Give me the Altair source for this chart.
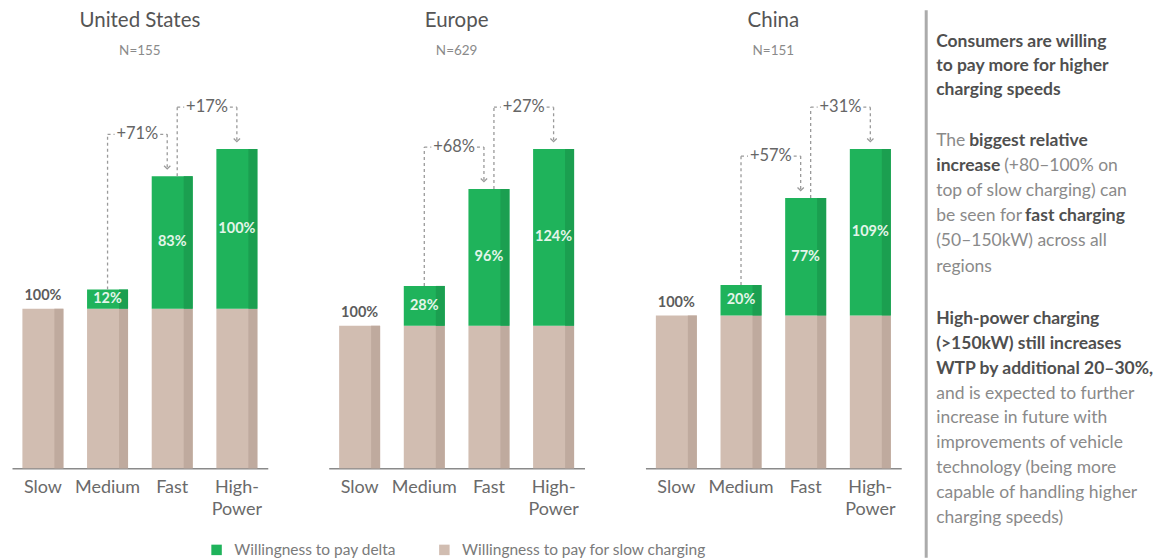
import altair as alt
import pandas as pd

# ---------------- data ----------------
categories = ["Slow", "Medium", "Fast", "High-Power"]
regions = ["United States", "Europe", "China"]
sample_sizes = ["N=155", "N=629", "N=151"]
slow_wtp = [100, 100, 100, 100]  # willingness to pay for slow charging (index)
delta_us = [0, 12, 83, 100]
delta_eu = [0, 28, 96, 124]
delta_cn = [0, 20, 77, 109]
jumps_us = ["+71%", "+17%"]
jumps_eu = ["+68%", "+27%"]
jumps_cn = ["+57%", "+31%"]

series_delta = "Willingness to pay delta"
series_slow = "Willingness to pay for slow charging"

heading_lines = ["Consumers are willing", "to pay more for higher", "charging speeds"]
para1 = [
    [("The", False), ("biggest relative", True)],
    [("increase", True), ("(+80–100% on", False)],
    [("top of slow charging) can", False)],
    [("be seen for", False), ("fast charging", True)],
    [("(50–150kW) across all", False)],
    [("regions", False)],
]
para2 = [
    [("High-power charging", True)],
    [("(>150kW) still increases", True)],
    [("WTP by additional 20–30%,", True)],
    [("and is expected to further", False)],
    [("increase in future with", False)],
    [("improvements of vehicle", False)],
    [("technology (being more", False)],
    [("capable of handling higher", False)],
    [("charging speeds)", False)],
]

# ---------------- style ----------------
FONT = "Lato"
GREEN = "#1fb35b"
GREEN_D = "#1b9f50"
TAN = "#d1bdb1"
TAN_D = "#bfaa9e"
DASH = "#9a9a9a"
W, H = 256, 458.5
BAR_SPAN = 319.5
STEP = W / (4 - 0.366 + 2 * 0.161)
BRACKET = -42

color_scale = alt.Scale(domain=[series_delta, series_slow], range=[GREEN, TAN])
legend = alt.Legend(orient="none", legendX=197, legendY=532, direction="horizontal",
                    title=None, symbolType="square", symbolSize=110, symbolStrokeWidth=0,
                    labelFontSize=15.5, labelColor="#7a7a7a", labelFont=FONT,
                    labelLimit=0, columnPadding=40, labelOffset=10)


def panel(region, nlabel, deltas, jumps):
    rows = []
    for c, b, d in zip(categories, slow_wtp, deltas):
        rows.append(dict(cat=c, series=series_slow, y0=0, y1=b, total=b + d,
                         mid=None, lab=""))
        if d > 0:
            rows.append(dict(cat=c, series=series_delta, y0=b, y1=b + d, total=b + d,
                             mid=b + d / 2, lab=f"{d}%"))
    df = pd.DataFrame(rows)
    top = max(b + d for b, d in zip(slow_wtp, deltas))
    yscale = alt.Scale(domain=[0, top * H / BAR_SPAN], nice=False, zero=True)
    xenc = alt.X("cat:N", sort=categories,
                 scale=alt.Scale(domain=categories, paddingInner=0.366, paddingOuter=0.161),
                 axis=alt.Axis(title=None, labelAngle=0, domain=True, domainColor="#8a8a8a",
                               domainWidth=1.5, ticks=False, labelFontSize=18,
                               labelColor="#6a6a6a", labelPadding=10, labelFont=FONT,
                               labelBaseline="top", labelLineHeight=22, grid=False,
                               labelExpr="datum.label == 'High-Power' ? ['High-', 'Power'] : datum.label"))
    base = alt.Chart(df)
    bars = base.mark_bar().encode(
        x=xenc, y=alt.Y("y0:Q", scale=yscale, axis=None), y2="y1",
        color=alt.Color("series:N", scale=color_scale, legend=legend))
    strip_slow = base.transform_filter(alt.datum.series == series_slow).mark_bar(
        width=9, xOffset=16, color=TAN_D).encode(x="cat:N", y="y0:Q", y2="y1")
    strip_delta = base.transform_filter(alt.datum.series == series_delta).mark_bar(
        width=9, xOffset=16, color=GREEN_D).encode(x="cat:N", y="y0:Q", y2="y1")
    slow_lab = base.transform_filter(
        (alt.datum.cat == "Slow") & (alt.datum.series == series_slow)).mark_text(
        dy=-13, font=FONT, fontWeight="bold", fontSize=14.5, color="#5c5c5c").encode(
        x="cat:N", y="y1:Q", text=alt.value("100%"))
    delta_lab = base.transform_filter(alt.datum.series == series_delta).mark_text(
        font=FONT, fontWeight="bold", fontSize=14.5, color="#e4f5ea").encode(
        x="cat:N", y="mid:Q", text="lab:N")

    hdf = pd.DataFrame({"region": [region], "n": [nlabel]})
    title = alt.Chart(hdf).mark_text(font=FONT, fontSize=20.5, color="#555555").encode(
        x=alt.value(W / 2), y=alt.value(11), text="region:N")
    subtitle = alt.Chart(hdf).mark_text(font=FONT, fontSize=13.5, color="#8a8a8a").encode(
        x=alt.value(W / 2), y=alt.value(41), text="n:N")

    layers = [bars, strip_slow, strip_delta, slow_lab, delta_lab, title, subtitle]
    tops = [b + d for b, d in zip(slow_wtp, deltas)]
    brackets = [(1, 2, jumps[0], 0, -5), (2, 3, jumps[1], 5, 0)]
    for si, di, lab, lo, ro in brackets:
        bdf = pd.DataFrame([dict(src=categories[si], dst=categories[di],
                                 st=tops[si], dt=tops[di], lab=lab)])
        bb = alt.Chart(bdf)
        rule = dict(color=DASH, strokeWidth=1.3, strokeDash=[3, 3])
        layers += [
            bb.mark_rule(xOffset=lo, y2Offset=BRACKET, **rule).encode(
                x=alt.X("src:N"), y="st:Q", y2="dt:Q"),
            bb.mark_rule(xOffset=lo, x2Offset=lo + 7, yOffset=BRACKET, **rule).encode(
                x="src:N", x2="src:N", y="dt:Q"),
            bb.mark_rule(xOffset=ro - 7, x2Offset=ro, yOffset=BRACKET, **rule).encode(
                x="dst:N", x2="dst:N", y="dt:Q"),
            bb.mark_rule(xOffset=ro, yOffset=BRACKET, y2Offset=-9, **rule).encode(
                x="dst:N", y="dt:Q", y2="dt:Q"),
            bb.mark_point(shape="M-1,-0.5L0,0.5L1,-0.5", filled=False, size=40,
                          strokeWidth=1.3, color=DASH, opacity=1, xOffset=ro,
                          yOffset=-9).encode(x="dst:N", y="dt:Q"),
            bb.mark_text(xOffset=(lo + STEP + ro) / 2, yOffset=BRACKET, font=FONT,
                         fontSize=16.5, color="#666666").encode(
                x="src:N", y="dt:Q", text="lab:N"),
        ]
    return alt.layer(*layers).properties(width=W, height=H).resolve_scale(y="shared")


p_us = panel(regions[0], sample_sizes[0], delta_us, jumps_us)
p_eu = panel(regions[1], sample_sizes[1], delta_eu, jumps_eu)
p_cn = panel(regions[2], sample_sizes[2], delta_cn, jumps_cn)
bars_row = alt.hconcat(p_us, p_eu, p_cn, spacing=61).resolve_scale(
    y="independent", x="independent", color="shared")

# ---------------- side text ----------------
TW, TH = 238, 548
TFS = 17.5
trows = []
ypos = [32, 56, 80]
for t, y in zip(heading_lines, ypos):
    trows.append(dict(text=t, x=10, y=y, bold=True))
p1y = [131, 156, 181, 206, 231, 257]
seg_x1 = {"biggest relative": 43, "(+80–100% on": 78, "fast charging": 99}
for line, y in zip(para1, p1y):
    for seg in line:
        trows.append(dict(text=seg[0], x=seg_x1.get(seg[0], 10), y=y, bold=seg[1]))
p2y = [309, 334, 359, 384, 408, 433, 458, 483, 508]
for line, y in zip(para2, p2y):
    for seg in line:
        trows.append(dict(text=seg[0], x=10, y=y, bold=seg[1]))
tdf = pd.DataFrame(trows)
tx = alt.X("x:Q", scale=alt.Scale(domain=[0, TW], range=[0, TW], nice=False, zero=False), axis=None)
ty = alt.Y("y:Q", scale=alt.Scale(domain=[0, TH], range=[0, TH], nice=False, zero=False), axis=None)
tb = alt.Chart(tdf)
t_bold = tb.transform_filter(alt.datum.bold == True).mark_text(
    align="left", baseline="middle", font=FONT, fontSize=TFS, fontWeight="bold",
    color="#4f4f4f").encode(x=tx, y=ty, text="text:N")
t_norm = tb.transform_filter(alt.datum.bold == False).mark_text(
    align="left", baseline="middle", font=FONT, fontSize=TFS, color="#8a8a8a").encode(
    x=tx, y=ty, text="text:N")
sep = alt.Chart(pd.DataFrame({"a": [0]})).mark_rule(color="#ababab", strokeWidth=3).encode(
    x=alt.value(0), y=alt.value(0), y2=alt.value(TH))
side = alt.layer(sep, t_bold, t_norm).properties(width=TW, height=TH)

chart = alt.hconcat(bars_row, side, spacing=23).properties(
    padding={"left": 4, "top": 0, "right": 0, "bottom": 0}
).configure_view(stroke=None)

chart.save("out.html", embed_options={"renderer": "svg", "actions": False})
